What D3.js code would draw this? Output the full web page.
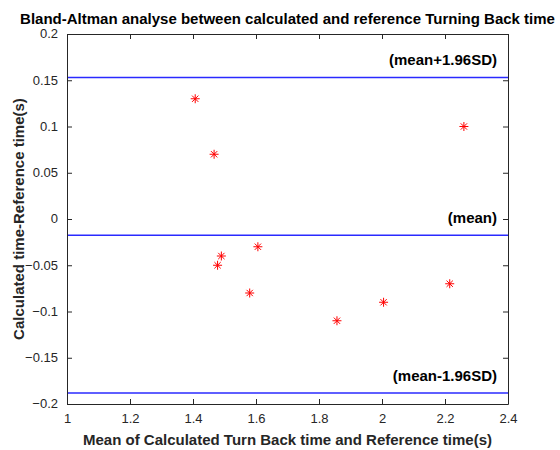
<!DOCTYPE html>
<html>
<head>
<meta charset="utf-8">
<script src="https://cdn.jsdelivr.net/npm/d3@7"></script>
<style>
	body { margin: 0; background: #fff; }
	svg { font-family: "Liberation Sans", Arial, sans-serif; }
</style>
</head>
<body>
<svg id="chart"></svg>
<script>
// data
let meanVals = [1.407, 1.467, 1.478, 1.49, 1.58, 1.606, 1.857, 2.005, 2.215, 2.26];
let diffVals = [0.13, 0.07, -0.05, -0.04, -0.08, -0.03, -0.11, -0.09, -0.07, 0.10];
let refLabels = ["(mean+1.96SD)", "(mean)", "(mean-1.96SD)"];
let refVals = [0.153, -0.0175, -0.188];
let xTicks = [1, 1.2, 1.4, 1.6, 1.8, 2, 2.2, 2.4];
let yTicks = [-0.2, -0.15, -0.1, -0.05, 0, 0.05, 0.1, 0.15, 0.2];

function makeChart() {
	let w = 560;
	let h = 450;
	let marginT = 34;
	let marginL = 67;
	let marginR = 52;
	let marginB = 46;
	let axisColor = '#262626';

	let chart = d3.select('#chart')
		.attr('width', w)
		.attr('height', h);

	let xScale = d3.scaleLinear()
		.domain([1, 2.4])
		.range([marginL, w - marginR]);

	let yScale = d3.scaleLinear()
		.domain([-0.2, 0.2])
		.range([h - marginB, marginT]);

	let fmt = d => d3.format('')(+d.toFixed(2));

	// reference lines
	chart.selectAll('.ref')
		.data(refVals)
		.enter()
		.append('line')
		.attr('class', 'ref')
		.attr('x1', xScale(1))
		.attr('x2', xScale(2.4))
		.attr('y1', d => yScale(d))
		.attr('y2', d => yScale(d))
		.attr('stroke', '#2a2aff')
		.attr('stroke-width', 1.5);

	chart.selectAll('.reflabel')
		.data(refVals)
		.enter()
		.append('text')
		.attr('class', 'reflabel')
		.attr('x', xScale(2.4) - 11)
		.attr('y', d => yScale(d) - 12)
		.style('text-anchor', 'end')
		.style('font-size', '15px')
		.style('font-weight', 'bold')
		.style('fill', '#000')
		.text((d, i) => refLabels[i]);

	// asterisk markers
	let r = 4.5;
	let star = `M${-r},0H${r}M0,${-r}V${r}M${-r * 0.7},${-r * 0.7}L${r * 0.7},${r * 0.7}M${-r * 0.7},${r * 0.7}L${r * 0.7},${-r * 0.7}`;
	chart.selectAll('.pt')
		.data(meanVals)
		.enter()
		.append('path')
		.attr('class', 'pt')
		.attr('transform', (d, i) => `translate(${xScale(d)},${yScale(diffVals[i])})`)
		.attr('d', star)
		.style('stroke', '#ff0000')
		.style('stroke-width', 1)
		.style('fill', 'none');

	// AXES (ticks inward, box on)
	let xAxis = d3.axisBottom(xScale).tickValues(xTicks).tickSizeInner(-5).tickSizeOuter(0).tickPadding(10).tickFormat(fmt);
	let yAxis = d3.axisLeft(yScale).tickValues(yTicks).tickSizeInner(-5).tickSizeOuter(0).tickPadding(9).tickFormat(fmt);
	let xTop = d3.axisTop(xScale).tickValues(xTicks).tickSizeInner(-5).tickSizeOuter(0).tickFormat('');
	let yRight = d3.axisRight(yScale).tickValues(yTicks).tickSizeInner(-5).tickSizeOuter(0).tickFormat('');

	let gx = chart.append('g')
		.attr('transform', `translate(0, ${h - marginB})`)
		.call(xAxis);
	let gy = chart.append('g')
		.attr('transform', `translate(${marginL}, 0)`)
		.call(yAxis);
	let gt = chart.append('g')
		.attr('transform', `translate(0, ${marginT})`)
		.call(xTop);
	let gr = chart.append('g')
		.attr('transform', `translate(${w - marginR}, 0)`)
		.call(yRight);

	[gx, gy, gt, gr].forEach(g => {
		g.selectAll('path, line').attr('stroke', axisColor);
		g.selectAll('text')
			.style('font-family', '"Liberation Sans", Arial, sans-serif')
			.style('font-size', '13px')
			.attr('fill', axisColor);
	});
	gy.selectAll('text').attr('dy', '0.3em');

	//LABELS
	chart.append('text')
		.attr('x', (xScale(1) + xScale(2.4)) / 2)
		.attr('y', 24)
		.style('text-anchor', 'middle')
		.style('font-size', '15px')
		.style('font-weight', 'bold')
		.text('Bland-Altman analyse between calculated and reference Turning Back time');

	chart.append('text')
		.attr('x', (xScale(1) + xScale(2.4)) / 2)
		.attr('y', 445)
		.style('text-anchor', 'middle')
		.style('font-size', '15px')
		.style('font-weight', 'bold')
		.style('fill', axisColor)
		.text('Mean of Calculated Turn Back time and Reference time(s)');

	chart.append('text')
		.attr('transform', 'rotate(-90)')
		.attr('x', -(yScale(-0.2) + yScale(0.2)) / 2)
		.attr('y', 24)
		.style('text-anchor', 'middle')
		.style('font-size', '15px')
		.style('font-weight', 'bold')
		.style('fill', axisColor)
		.text('Calculated time-Reference time(s)');
}

window.onload = function () {
	makeChart();
}
</script>
</body>
</html>
